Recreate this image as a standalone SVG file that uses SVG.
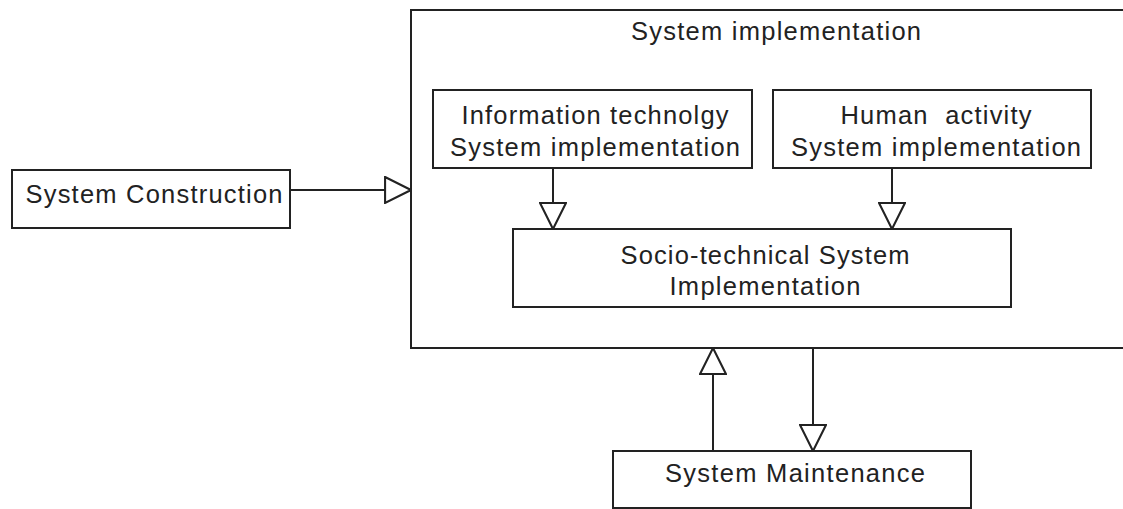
<svg xmlns="http://www.w3.org/2000/svg" width="1123" height="509" viewBox="0 0 1123 509">
<style>
.box{fill:#fff;stroke:#222;stroke-width:2}
.lbl{font-family:"Liberation Sans",Arial,sans-serif;font-size:25.5px;fill:#222;text-anchor:middle}
.conn{fill:none;stroke:#222;stroke-width:2}
</style>
<defs>
<marker id="tri" markerUnits="userSpaceOnUse" markerWidth="28" markerHeight="28" viewBox="-1 -1 27 27" refX="25" refY="12.5" orient="auto">
<path d="M0,0 L25,12.5 L0,25 Z" fill="#fff" stroke="#222" stroke-width="2" stroke-linejoin="miter"/>
</marker>
</defs>
<rect width="1123" height="509" fill="#fff"/>
<g id="node-system-implementation">
<rect class="box" x="411" y="10" width="730" height="338"/>
<text class="lbl" x="776" y="40" textLength="290" lengthAdjust="spacing">System implementation</text>
</g>
<g id="node-system-construction">
<rect class="box" x="12" y="170" width="278" height="58"/>
<text class="lbl" x="154" y="203" textLength="257" lengthAdjust="spacing">System Construction</text>
</g>
<g id="node-it-implementation">
<rect class="box" x="433" y="90" width="319" height="78"/>
<text class="lbl" x="595" y="124" textLength="267" lengthAdjust="spacing">Information technolgy</text>
<text class="lbl" x="595" y="156" textLength="290" lengthAdjust="spacing">System implementation</text>
</g>
<g id="node-human-implementation">
<rect class="box" x="773" y="90" width="318" height="78"/>
<text class="lbl" x="936" y="124" textLength="191" lengthAdjust="spacing" style="white-space:pre">Human  activity</text>
<text class="lbl" x="936" y="156" textLength="290" lengthAdjust="spacing">System implementation</text>
</g>
<g id="node-socio-technical">
<rect class="box" x="513" y="229" width="498" height="78"/>
<text class="lbl" x="765" y="264" textLength="289" lengthAdjust="spacing">Socio-technical System</text>
<text class="lbl" x="765" y="295" textLength="191" lengthAdjust="spacing">Implementation</text>
</g>
<g id="node-system-maintenance">
<rect class="box" x="613" y="451" width="358" height="57"/>
<text class="lbl" x="795" y="482" textLength="260" lengthAdjust="spacing">System Maintenance</text>
</g>
<g id="connectors">
<line class="conn" x1="290" y1="190" x2="411" y2="190" marker-end="url(#tri)"/>
<line class="conn" x1="553" y1="168" x2="553" y2="229" marker-end="url(#tri)"/>
<line class="conn" x1="892" y1="168" x2="892" y2="229" marker-end="url(#tri)"/>
<line class="conn" x1="713" y1="451" x2="713" y2="348" marker-end="url(#tri)"/>
<line class="conn" x1="813" y1="348" x2="813" y2="451" marker-end="url(#tri)"/>
</g>
</svg>
